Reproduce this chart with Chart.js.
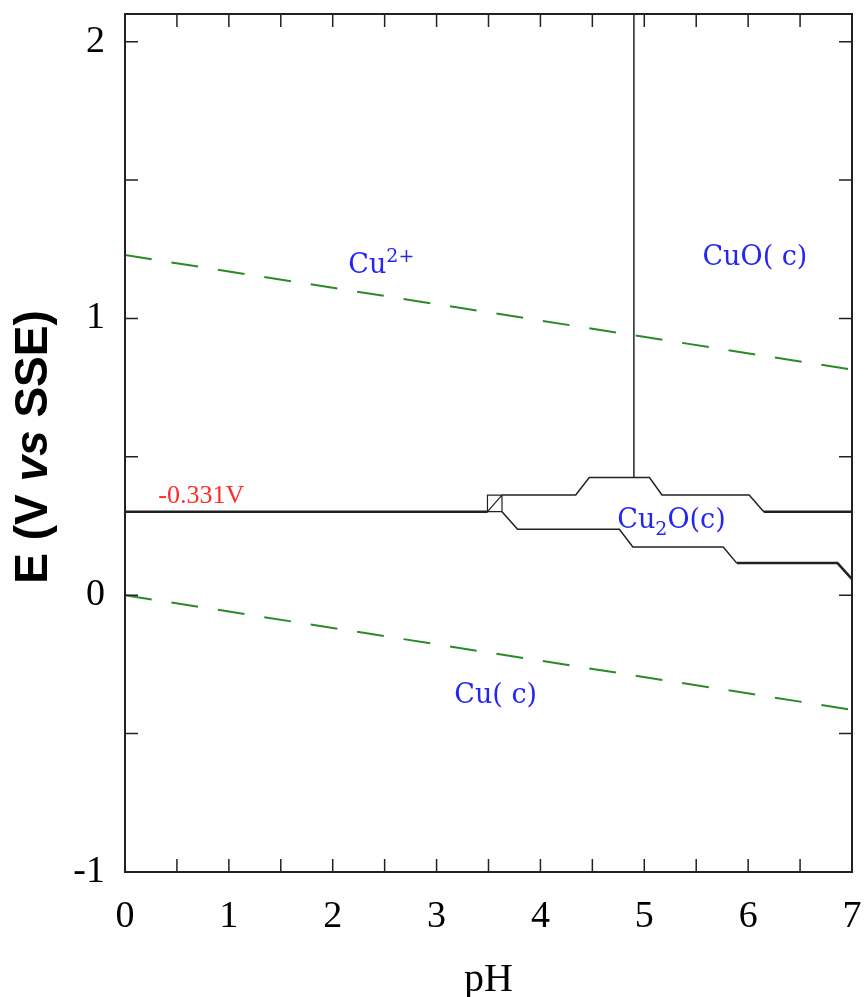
<!DOCTYPE html>
<html>
<head>
<meta charset="utf-8">
<script src="https://cdn.jsdelivr.net/npm/chart.js@4.4.1/dist/chart.umd.min.js"></script>
<style>
  body { margin: 0; background: #fff; }
  #wrap { width: 867px; height: 997px; }
</style>
</head>
<body>
<div id="wrap"><canvas id="pourbaix"></canvas></div>
<script>
// axis ranges and labelled ticks
const phMin = 0, phMax = 7;
const eMin = -1, eMax = 2.1;
const phTicks = [0, 1, 2, 3, 4, 5, 6, 7];
const eTicks = [-1, 0, 1, 2];

// water stability lines (green dashed)
const waterUpperPH = [0, 7];
const waterUpperE = [1.229, 0.815];
const waterLowerPH = [0, 7];
const waterLowerE = [0, -0.414];

// Cu / Cu2+ boundary
const cuRefPH = [0, 3.49];
const cuRefE = [0.302, 0.302];

// little box where the boundaries meet
const boxPH = [3.49, 3.63, 3.63, 3.49, 3.49, 3.63];
const boxE = [0.302, 0.302, 0.362, 0.362, 0.302, 0.362];

// upper edge of Cu2O(c)
const cu2oTopPH = [3.63, 4.34, 4.47, 5.05, 5.17, 6.01, 6.15];
const cu2oTopE = [0.362, 0.362, 0.425, 0.425, 0.362, 0.362, 0.302];
const cu2oTopRightPH = [6.15, 7];
const cu2oTopRightE = [0.302, 0.302];

// lower edge of Cu2O(c)
const cu2oBotPH = [3.63, 3.78, 4.76, 4.89, 5.76, 5.89];
const cu2oBotE = [0.302, 0.238, 0.238, 0.174, 0.174, 0.116];
const cu2oBotRightPH = [5.89, 6.86, 7];
const cu2oBotRightE = [0.116, 0.116, 0.058];

// Cu2+ / CuO(c) boundary
const cuoPH = [4.90, 4.90];
const cuoE = [0.425, 2.1];

// region names: [text, "sup"|"sub"|undefined] pieces
const regionText = [
  [["Cu"], ["2+", "sup"]],
  [["CuO( c)"]],
  [["Cu"], ["2", "sub"], ["O(c)"]],
  [["Cu( c)"]]
];
const regionPH = [2.15, 5.56, 4.74, 3.17];
const regionE = [1.163, 1.192, 0.243, -0.391];

const refText = "-0.331V";
const refPH = 0.32, refE = 0.333;

const pts = (xs, ys) => xs.map((x, i) => ({ x: x, y: ys[i] }));

const BLACK = "#222";
const GREEN = "#2a8a2a";

function line(xs, ys, width, color, dash) {
  return {
    data: pts(xs, ys),
    showLine: true,
    borderColor: color || BLACK,
    borderWidth: width,
    borderDash: dash || [],
    pointRadius: 0,
    fill: false
  };
}

// scales get a fixed size and no label overflow padding
function fixBox(s, w, h) {
  if (w) s.width = w;
  if (h) s.height = h;
  s.paddingTop = s.paddingBottom = s.paddingLeft = s.paddingRight = 0;
}

// ===============================
//   FRAME, INWARD TICKS, TEXT
// ===============================
const decor = {
  id: "decor",
  afterDraw(chart) {
    const ctx = chart.ctx;
    const a = chart.chartArea;
    const xs = chart.scales.x, ys = chart.scales.y;
    ctx.save();

    // frame
    ctx.strokeStyle = BLACK;
    ctx.lineWidth = 2;
    ctx.strokeRect(a.left, a.top, a.right - a.left, a.bottom - a.top);

    // ticks every 0.5 on all four sides
    const tl = 13;
    ctx.lineWidth = 1.5;
    ctx.beginPath();
    for (let v = phMin; v <= phMax + 1e-9; v += 0.5) {
      const px = xs.getPixelForValue(v);
      ctx.moveTo(px, a.bottom); ctx.lineTo(px, a.bottom - tl);
      ctx.moveTo(px, a.top); ctx.lineTo(px, a.top + tl);
    }
    for (let v = eMin; v <= 2 + 1e-9; v += 0.5) {
      const py = ys.getPixelForValue(v);
      ctx.moveTo(a.left, py); ctx.lineTo(a.left + tl, py);
      ctx.moveTo(a.right, py); ctx.lineTo(a.right - tl, py);
    }
    ctx.stroke();

    // y title with italic "vs"
    const parts = [["E (V ", "bold"], ["vs", "italic bold"], [" SSE)", "bold"]];
    ctx.translate(34, (a.top + a.bottom) / 2 + 4);
    ctx.rotate(-Math.PI / 2);
    ctx.fillStyle = "#000";
    ctx.textBaseline = "middle";
    let total = 0;
    parts.forEach(p => { ctx.font = p[1] + " 46px 'Liberation Sans'"; total += ctx.measureText(p[0]).width; });
    let cx = -total / 2;
    parts.forEach(p => {
      ctx.font = p[1] + " 46px 'Liberation Sans'";
      ctx.fillText(p[0], cx, 0);
      cx += ctx.measureText(p[0]).width;
    });
    ctx.setTransform(1, 0, 0, 1, 0, 0);

    // region names
    ctx.textBaseline = "alphabetic";
    ctx.fillStyle = "#2626f2";
    regionText.forEach((pieces, i) => {
      let x = xs.getPixelForValue(regionPH[i]);
      const y = ys.getPixelForValue(regionE[i]);
      pieces.forEach(p => {
        let size = 27, dy = 0;
        if (p[1] === "sup") { size = 19; dy = -11; }
        if (p[1] === "sub") { size = 19; dy = 7; }
        ctx.font = size + "px 'DejaVu Serif'";
        ctx.fillText(p[0], x, y + dy);
        x += ctx.measureText(p[0]).width;
      });
    });

    ctx.fillStyle = "#ff2a2a";
    ctx.font = "26px 'Liberation Serif'";
    ctx.fillText(refText, xs.getPixelForValue(refPH), ys.getPixelForValue(refE));
    ctx.restore();
  }
};

new Chart(document.getElementById("pourbaix"), {
  type: "scatter",
  data: {
    datasets: [
      line(waterUpperPH, waterUpperE, 2, GREEN, [27, 20]),
      line(waterLowerPH, waterLowerE, 2, GREEN, [27, 20]),
      line(cuRefPH, cuRefE, 2.5),
      line(boxPH, boxE, 1.2),
      line(cu2oTopPH, cu2oTopE, 1.5),
      line(cu2oTopRightPH, cu2oTopRightE, 2.5),
      line(cu2oBotPH, cu2oBotE, 1.5),
      line(cu2oBotRightPH, cu2oBotRightE, 2.5),
      line(cuoPH, cuoE, 1.5)
    ]
  },
  options: {
    responsive: true,
    maintainAspectRatio: false,
    animation: false,
    layout: { padding: { top: 14, right: 15, left: 0, bottom: 0 } },
    plugins: { legend: { display: false }, tooltip: { enabled: false } },
    scales: {
      x: {
        type: "linear", min: phMin, max: phMax,
        afterFit: s => fixBox(s, 0, 125),
        afterBuildTicks: s => { s.ticks = phTicks.map(v => ({ value: v })); },
        grid: { display: false },
        border: { display: false },
        ticks: { padding: 14, color: "#000", font: { family: "'Liberation Serif'", size: 38 } },
        title: { display: true, text: "pH", color: "#000", font: { family: "'Liberation Serif'", size: 40 }, padding: { top: 0, bottom: -7 } }
      },
      y: {
        type: "linear", min: eMin, max: eMax,
        afterFit: s => fixBox(s, 125, 0),
        afterBuildTicks: s => { s.ticks = eTicks.map(v => ({ value: v })); },
        grid: { display: false },
        border: { display: false },
        ticks: { padding: 12, color: "#000", font: { family: "'Liberation Serif'", size: 38 } }
      }
    }
  },
  plugins: [decor]
});
</script>
</body>
</html>
